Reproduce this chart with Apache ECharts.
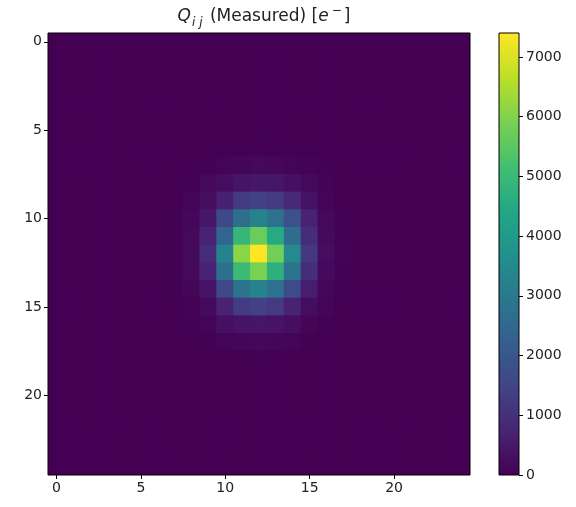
<!DOCTYPE html>
<html>
<head>
<meta charset="utf-8">
<script src="https://cdn.jsdelivr.net/npm/echarts@6/dist/echarts.min.js"></script>
<style>
  html, body { margin: 0; padding: 0; background: #fff; }
  #chart { width: 576px; height: 507px; }
</style>
</head>
<body>
<div id="chart"></div>
<script>
// Pixel indices along each axis
const xIndices = Array.from({ length: 25 }, (_, i) => String(i));
const yIndices = Array.from({ length: 25 }, (_, i) => String(i));

// Measured charge per pixel, rows = y index, columns = x index [e-]
const charge = [
  [0,0,0,0,0,0,0,0,0,0,0,0,0,0,0,0,0,0,0,0,0,0,0,0,0],
  [0,0,0,0,0,0,0,0,0,0,0,0,0,0,0,0,0,0,0,0,0,0,0,0,0],
  [0,0,0,0,0,0,0,0,0,0,0,0,0,0,0,0,0,0,0,0,0,0,0,0,0],
  [0,0,0,0,0,0,0,0,0,0,0,0,0,0,0,0,0,0,0,0,0,0,0,0,0],
  [0,0,0,0,0,0,0,0,0,0,0,0,0,0,0,0,0,0,0,0,0,0,0,0,0],
  [0,0,0,0,0,0,0,0,0,0,0,0,0,0,0,0,0,0,0,0,0,0,0,0,0],
  [0,0,0,0,0,0,0,0,0,0,0,10,20,10,0,0,0,0,0,0,0,0,0,0,0],
  [0,0,0,0,0,0,0,0,0,20,60,110,160,130,90,50,20,0,0,0,0,0,0,0,0],
  [0,0,0,0,0,0,0,0,30,150,240,400,460,420,300,160,40,0,0,0,0,0,0,0,0],
  [0,0,0,0,0,0,0,10,60,250,650,1250,1400,1250,850,350,70,0,0,0,0,0,0,0,0],
  [0,0,0,0,0,0,0,20,120,450,1650,2700,3300,2750,1800,700,150,20,0,0,0,0,0,0,0],
  [0,0,0,0,0,0,0,30,150,700,2400,4900,5700,4500,2600,950,180,30,0,0,0,0,0,0,0],
  [0,0,0,0,0,0,0,30,160,900,3250,6100,7400,5800,3500,1200,250,40,0,0,0,0,0,0,0],
  [0,0,0,0,0,0,0,30,140,700,2700,5000,5900,4700,2800,950,200,30,0,0,0,0,0,0,0],
  [0,0,0,0,0,0,0,20,100,400,1600,2800,3300,2750,1700,600,120,20,0,0,0,0,0,0,0],
  [0,0,0,0,0,0,0,10,50,200,700,1300,1400,1250,700,250,60,10,0,0,0,0,0,0,0],
  [0,0,0,0,0,0,0,0,20,80,320,390,430,380,280,100,30,0,0,0,0,0,0,0,0],
  [0,0,0,0,0,0,0,0,0,20,60,110,130,110,60,20,0,0,0,0,0,0,0,0,0],
  [0,0,0,0,0,0,0,0,0,0,0,10,20,10,0,0,0,0,0,0,0,0,0,0,0],
  [0,0,0,0,0,0,0,0,0,0,0,0,0,0,0,0,0,0,0,0,0,0,0,0,0],
  [0,0,0,0,0,0,0,0,0,0,0,0,0,0,0,0,0,0,0,0,0,0,0,0,0],
  [0,0,0,0,0,0,0,0,0,0,0,0,0,0,0,0,0,0,0,0,0,0,0,0,0],
  [0,0,0,0,0,0,0,0,0,0,0,0,0,0,0,0,0,0,0,0,0,0,0,0,0],
  [0,0,0,0,0,0,0,0,0,0,0,0,0,0,0,0,0,0,0,0,0,0,0,0,0],
  [0,0,0,0,0,0,0,0,0,0,0,0,0,0,0,0,0,0,0,0,0,0,0,0,0]
];

// Colour scale range and colorbar ticks
const colorMin = 0;
const colorMax = 7400;
const colorbarTicks = [0, 1000, 2000, 3000, 4000, 5000, 6000, 7000];

// Viridis colour map
const viridis = [
  '#440154', '#482475', '#414487', '#355f8d', '#2a788e',
  '#21918c', '#22a884', '#44bf70', '#7ad151', '#bddf26', '#fde725'
];

const cells = [];
charge.forEach((row, y) => row.forEach((v, x) => cells.push([x, y, v])));

const textColor = '#222';
const fontFamily = 'DejaVu Sans';

// Each pixel is a rectangle slightly enlarged so neighbours overlap without seams
function renderPixel(params, api) {
  const c = api.coord([api.value(0), api.value(1)]);
  const s = api.size([1, 1]);
  return {
    type: 'rect',
    shape: { x: c[0] - s[0] / 2 - 0.5, y: c[1] - s[1] / 2 - 0.5, width: s[0] + 1, height: s[1] + 1 },
    style: { fill: api.visual('color') },
    silent: true
  };
}

const chart = echarts.init(document.getElementById('chart'), null, { renderer: 'canvas' });

chart.setOption({
  animation: false,
  backgroundColor: '#fff',
  textStyle: { fontFamily: fontFamily },
  title: {
    text: '{q|Q}{sub|i j} (Measured) [{e|e}{sup|\u2212}]',
    left: 259,
    textAlign: 'center',
    top: 0,
    textStyle: {
      rich: {
        q: { fontFamily: fontFamily, fontStyle: 'italic', fontSize: 17, color: textColor, lineHeight: 24, verticalAlign: 'middle' },
        sub: { fontFamily: fontFamily, fontStyle: 'italic', fontSize: 12, color: textColor, lineHeight: 24, verticalAlign: 'bottom', padding: [0, 2, 0, 1] },
        e: { fontFamily: fontFamily, fontStyle: 'italic', fontSize: 17, color: textColor, lineHeight: 24, verticalAlign: 'middle' },
        sup: { fontFamily: fontFamily, fontSize: 12, color: textColor, lineHeight: 24, verticalAlign: 'top', padding: [0, 2, 0, 3] }
      },
      fontFamily: fontFamily,
      fontSize: 17,
      fontWeight: 'normal',
      color: textColor,
      lineHeight: 24
    }
  },
  grid: [
    { left: 48, top: 33, width: 422, height: 442, show: true, borderColor: '#000', borderWidth: 1, backgroundColor: 'transparent', z: 3 },
    { left: 499, top: 33, width: 20, height: 442, show: true, borderColor: '#000', borderWidth: 1, backgroundColor: 'transparent', z: 3 }
  ],
  xAxis: [
    {
      gridIndex: 0,
      type: 'category',
      data: xIndices,
      axisLine: { show: false },
      axisTick: { show: true, interval: 4, alignWithLabel: true, length: 4, lineStyle: { color: '#000' } },
      axisLabel: { interval: 4, color: textColor, fontSize: 14, margin: 6, fontFamily: fontFamily },
      splitLine: { show: false },
      splitArea: { show: false }
    },
    {
      gridIndex: 1,
      type: 'category',
      data: ['bar'],
      show: false
    }
  ],
  yAxis: [
    {
      gridIndex: 0,
      type: 'category',
      data: yIndices,
      inverse: true,
      axisLine: { show: false },
      axisTick: { show: true, interval: 4, alignWithLabel: true, length: 4, lineStyle: { color: '#000' } },
      axisLabel: { interval: 4, color: textColor, fontSize: 14, margin: 6, fontFamily: fontFamily },
      splitLine: { show: false },
      splitArea: { show: false }
    },
    {
      gridIndex: 1,
      type: 'value',
      position: 'right',
      min: colorMin,
      max: colorMax,
      axisLine: { show: false },
      axisTick: { show: true, length: 4, customValues: colorbarTicks, lineStyle: { color: '#000' } },
      axisLabel: {
        show: true, customValues: colorbarTicks, color: textColor, fontSize: 14, margin: 7, fontFamily: fontFamily,
        formatter: (v) => String(v)
      },
      splitLine: { show: false }
    }
  ],
  visualMap: {
    show: false,
    type: 'continuous',
    seriesIndex: 0,
    dimension: 2,
    min: colorMin,
    max: colorMax,
    inRange: { color: viridis }
  },
  series: [
    {
      type: 'custom',
      xAxisIndex: 0,
      yAxisIndex: 0,
      data: cells,
      encode: { x: 0, y: 1 },
      clip: true,
      renderItem: renderPixel,
      silent: true
    },
    {
      type: 'bar',
      xAxisIndex: 1,
      yAxisIndex: 1,
      data: [colorMax],
      barWidth: '100%',
      silent: true,
      itemStyle: {
        color: new echarts.graphic.LinearGradient(0, 1, 0, 0,
          viridis.map((c, i) => ({ offset: i / (viridis.length - 1), color: c })))
      }
    }
  ]
});
</script>
</body>
</html>
